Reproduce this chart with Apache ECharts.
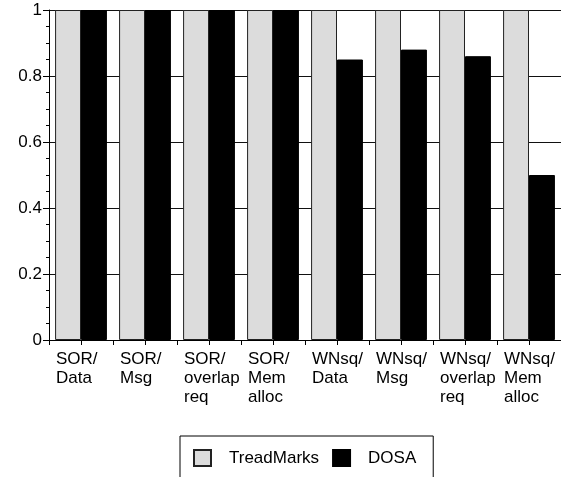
<!DOCTYPE html>
<html>
<head>
<meta charset="utf-8">
<script src="https://cdn.jsdelivr.net/npm/echarts@6/dist/echarts.min.js"></script>
<style>
  html, body { margin: 0; padding: 0; background: #fff; }
  #chart { width: 561px; height: 477px; }
</style>
</head>
<body>
<div id="chart"></div>
<script>
// Benchmark / metric labels (one per group)
const categories = [
  'SOR/\nData', 'SOR/\nMsg', 'SOR/\noverlap\nreq', 'SOR/\nMem\nalloc',
  'WNsq/\nData', 'WNsq/\nMsg', 'WNsq/\noverlap\nreq', 'WNsq/\nMem\nalloc'
];
// Normalised values
const treadMarks = [1, 1, 1, 1, 1, 1, 1, 1];
const dosa = [1, 1, 1, 1, 0.85, 0.88, 0.86, 0.50];
// Y axis ticks
const yTicks = [0, 0.2, 0.4, 0.6, 0.8, 1];

// Half-group slots, used only to place tick marks at group centres and edges
const halfSlots = [];
categories.forEach((c, i) => { halfSlots.push(i + 'a', i + 'b'); });

const FONT = '"Liberation Sans", Arial, sans-serif';

const chart = echarts.init(document.getElementById('chart'), null, { renderer: 'canvas' });
chart.setOption({
  animation: false,
  backgroundColor: '#ffffff',
  textStyle: { fontFamily: FONT },
  grid: { left: 49, right: -2, top: 10, bottom: 137, containLabel: false },
  legend: {
    left: 180,
    top: 436,
    orient: 'horizontal',
    backgroundColor: '#ffffff',
    borderColor: '#000000',
    borderWidth: 1,
    borderRadius: 0,
    padding: [13, 17, 14, 13],
    itemWidth: 17,
    itemHeight: 16,
    itemGap: 13,
    icon: 'rect',
    textStyle: { fontFamily: FONT, fontSize: 17, color: '#000', padding: [0, 0, 0, 13] },
    data: ['TreadMarks', 'DOSA']
  },
  xAxis: [
    {
      type: 'category',
      data: categories,
      boundaryGap: true,
      axisLine: { show: true, lineStyle: { color: '#000', width: 1 } },
      axisTick: { show: false },
      axisLabel: {
        interval: 0,
        margin: 10,
        align: 'center',
        formatter: (v) => v.split('\n').map(s => '{t|' + s + '}').join('\n'),
        rich: {
          t: {
            fontFamily: FONT, fontSize: 17, lineHeight: 19, color: '#000',
            width: 50, align: 'left'
          }
        }
      },
      splitLine: { show: false }
    },
    {
      type: 'category',
      data: halfSlots,
      position: 'bottom',
      boundaryGap: true,
      axisLine: { show: false },
      axisTick: { show: true, length: 5, interval: 0, lineStyle: { color: '#000', width: 1 } },
      axisLabel: { show: false },
      splitLine: { show: false }
    }
  ],
  yAxis: {
    type: 'value',
    min: yTicks[0],
    max: yTicks[yTicks.length - 1],
    interval: 0.2,
    axisLine: { show: true, lineStyle: { color: '#000', width: 1 } },
    axisTick: { show: true, length: 6, lineStyle: { color: '#000', width: 1 } },
    minorTick: { show: true, splitNumber: 4, length: 3, lineStyle: { color: '#000', width: 1 } },
    axisLabel: {
      margin: 7,
      fontFamily: FONT,
      fontSize: 17,
      color: '#000',
      formatter: (v) => String(Math.round(v * 10) / 10)
    },
    splitLine: { show: true, lineStyle: { color: '#111', width: 1 } }
  },
  series: [
    {
      name: 'TreadMarks',
      type: 'bar',
      xAxisIndex: 0,
      data: treadMarks,
      barGap: '0%',
      barCategoryGap: '19%',
      itemStyle: { color: '#dcdcdc', borderColor: '#222', borderWidth: 1 }
    },
    {
      name: 'DOSA',
      type: 'bar',
      xAxisIndex: 0,
      data: dosa,
      barGap: '0%',
      barCategoryGap: '19%',
      itemStyle: { color: '#000000', borderColor: '#000', borderWidth: 1 }
    }
  ]
});
</script>
</body>
</html>
